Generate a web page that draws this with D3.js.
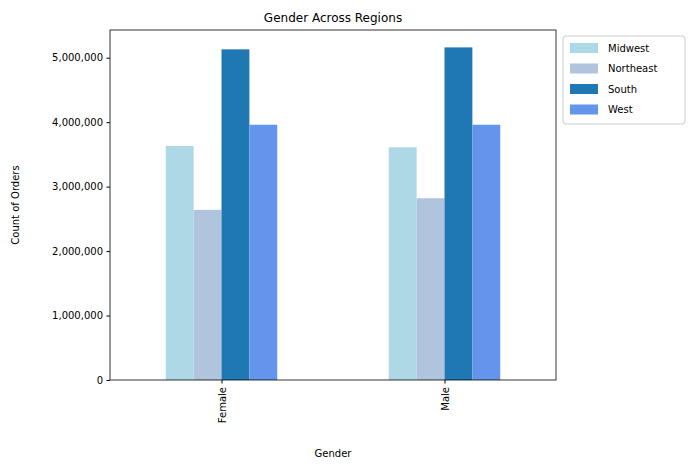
<!DOCTYPE html>
<html>
<head>
<meta charset="utf-8">
<script src="https://cdn.jsdelivr.net/npm/d3@7"></script>
<style>
  body { margin: 0; background: #fff; }
  text { font-family: "DejaVu Sans", sans-serif; }
</style>
</head>
<body>
<svg id="chart" width="692" height="470"></svg>
<script>
const genders = ['Female', 'Male'];
const regions = ['Midwest', 'Northeast', 'South', 'West'];
const colors = ['#add8e6', '#b0c4de', '#1f77b4', '#6495ed'];
// counts per region, indexed by gender
const midwest = [3630000, 3610000];
const northeast = [2640000, 2820000];
const south = [5130000, 5160000];
const west = [3960000, 3960000];
const series = [midwest, northeast, south, west];
const yTicks = [0, 1000000, 2000000, 3000000, 4000000, 5000000];

const svg = d3.select('#chart');
const mLeft = 110, mRight = 556, mTop = 30, mBottom = 380;

const x = d3.scaleLinear().domain([-0.5, 1.5]).range([mLeft, mRight]);
const y = d3.scaleLinear().domain([0, 5430000]).range([mBottom, mTop]);
const barW = 0.125;

const g = svg.append('g');
series.forEach((vals, r) => {
    g.selectAll(null)
        .data(vals)
        .enter().append('rect')
        .attr('x', (v, i) => x(i - 0.25 + r * barW))
        .attr('width', x(barW) - x(0))
        .attr('y', v => y(v))
        .attr('height', v => y(0) - y(v))
        .attr('fill', colors[r]);
});

const yAxis = svg.append('g')
    .attr('transform', `translate(${mLeft},0)`)
    .call(d3.axisLeft(y).tickValues(yTicks).tickFormat(d3.format(',')).tickSizeOuter(0).tickSize(3.5).tickPadding(3.5));
const xAxis = svg.append('g')
    .attr('transform', `translate(0,${mBottom})`)
    .call(d3.axisBottom(x).tickValues([0, 1]).tickFormat(i => genders[i]).tickSizeOuter(0).tickSize(3.5));
xAxis.selectAll('text')
    .attr('transform', 'rotate(-90)')
    .attr('text-anchor', 'end')
    .attr('x', -7).attr('y', 0).attr('dy', '0.35em');
[yAxis, xAxis].forEach(a => {
    a.selectAll('text').attr('font-size', 10).attr('fill', '#000');
    a.select('.domain').remove();
});

svg.append('rect')
    .attr('x', mLeft).attr('y', mTop)
    .attr('width', mRight - mLeft).attr('height', mBottom - mTop)
    .attr('fill', 'none').attr('stroke', '#000').attr('stroke-width', 0.8);

svg.append('text').attr('x', (mLeft + mRight) / 2).attr('y', 22)
    .attr('text-anchor', 'middle').attr('font-size', 12).text('Gender Across Regions');
svg.append('text').attr('x', (mLeft + mRight) / 2).attr('y', 457)
    .attr('text-anchor', 'middle').attr('font-size', 10).text('Gender');
svg.append('text').attr('transform', `translate(19,${(mTop + mBottom) / 2}) rotate(-90)`)
    .attr('text-anchor', 'middle').attr('font-size', 10).text('Count of Orders');

const legend = svg.append('g').attr('transform', 'translate(563,36)');
legend.append('rect').attr('width', 122).attr('height', 88).attr('rx', 3)
    .attr('fill', '#fff').attr('stroke', '#ccc');
regions.forEach((name, i) => {
    legend.append('rect').attr('x', 7).attr('y', 7 + i * 20.5)
        .attr('width', 28).attr('height', 10).attr('fill', colors[i]);
    legend.append('text').attr('x', 45).attr('y', 12 + i * 20.5).attr('dy', '0.35em')
        .attr('font-size', 10).text(name);
});
</script>
</body>
</html>
